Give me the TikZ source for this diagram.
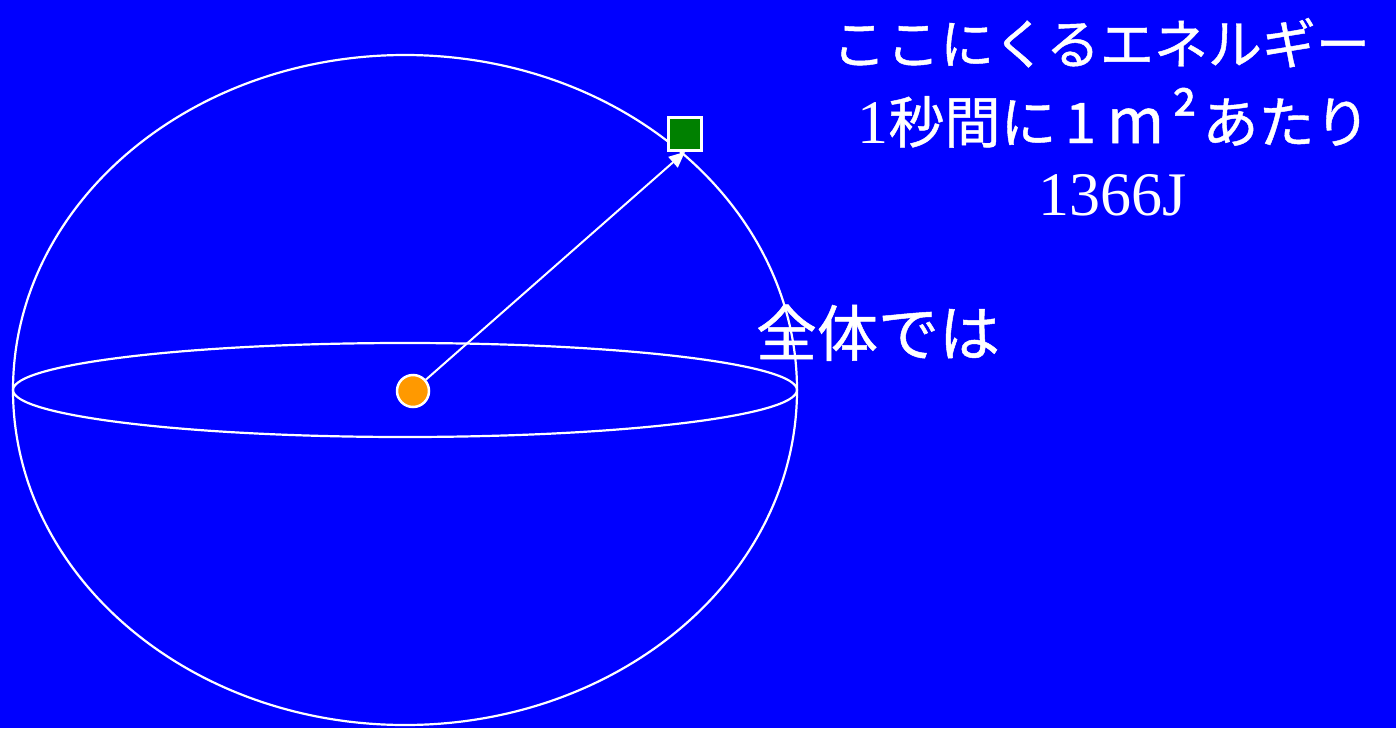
\documentclass[tikz,border=0pt]{standalone}
\usepackage{fontspec}
\usetikzlibrary{arrows.meta}
\newfontfamily\jfont[FakeBold=0.8]{Noto Sans CJK JP}
\newfontfamily\tfont{Liberation Serif}
\definecolor{bgblue}{RGB}{0,0,255}
\definecolor{sunorange}{RGB}{255,153,0}
\definecolor{boxgreen}{RGB}{0,128,0}
\tikzset{
  outline/.style={draw=white, line width=2.2pt},
  sun/.style={circle, fill=sunorange, draw=white, line width=2.5pt, minimum size=32pt, inner sep=0pt},
  target/.style={rectangle, fill=boxgreen, draw=white, line width=2.5pt, minimum size=33pt, inner sep=0pt},
  ray/.style={draw=white, line width=2pt, -{Triangle[width=14pt,length=16pt]}},
  label/.style={text=white, inner sep=0pt, anchor=base}
}
\begin{document}
\begin{tikzpicture}[x=1pt,y=-1pt]
\fill[bgblue] (0,0) rectangle (1396,728);
\useasboundingbox (0,0) rectangle (1396,728);
\draw[outline] (405,390) ellipse [x radius=392, y radius=335];
\draw[outline] (405,390) ellipse [x radius=392, y radius=47];
\node[sun] (s) at (413,391) {};
\node[target] (t) at (685,134) {};
\draw[ray] (s) -- (t.south);
\node[label] (l1) at (1101,64) {\jfont\fontsize{54pt}{60pt}\selectfont ここにくるエネルギー};
\node[label] (l2) at (1114,143) {\tfont\fontsize{62pt}{70pt}\selectfont 1\jfont\fontsize{56pt}{60pt}\selectfont 秒間に\makebox[48pt]{1}\makebox[62pt]{\fontsize{62pt}{62pt}\selectfont m}\makebox[36pt]{\fontsize{62pt}{62pt}\selectfont ²}あたり};
\node[label] (l3) at (1113,215) {\tfont\fontsize{62pt}{70pt}\selectfont 1366J};
\node[label] (l4) at (878,356) {\jfont\fontsize{61pt}{66pt}\selectfont 全体では};
\end{tikzpicture}
\end{document}
